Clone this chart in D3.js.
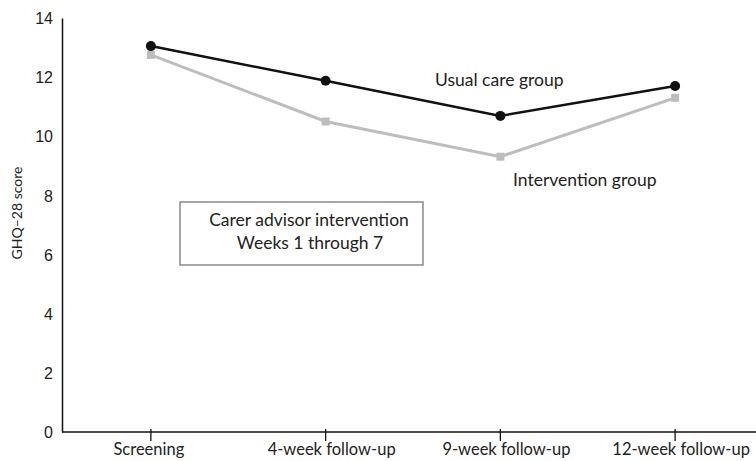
<!DOCTYPE html>
<html>
<head>
<meta charset="utf-8">
<script src="https://cdn.jsdelivr.net/npm/d3@7"></script>
<style>
  body { margin: 0; background: #fff; }
  svg { display: block; font-family: Lato, "Open Sans", sans-serif; }
  .axis text { fill: #222; }
</style>
</head>
<body>
<div id="chart"></div>
<script>
var timepoints = ["Screening", "4-week follow-up", "9-week follow-up", "12-week follow-up"]
var usualCare = [13.05, 11.88, 10.69, 11.7]
var intervention = [12.75, 10.5, 9.31, 11.3]
var yTicks = [0, 2, 4, 6, 8, 10, 12, 14]

function drawChart() {
  var width = 756
  var height = 461
  var margin = { top: 18, right: 0, bottom: 29, left: 62 }

  var svg = d3.select("#chart")
    .append("svg")
    .attr("width", width)
    .attr("height", height)

  var xScale = d3.scalePoint()
    .domain(timepoints)
    .range([margin.left + 1.5, margin.left + 700.5])
    .padding(0.5)

  var yScale = d3.scaleLinear()
    .domain([0, 14])
    .range([height - margin.bottom, margin.top])

  // y axis
  var yAxis = svg.append("g")
    .attr("class", "axis")
    .attr("transform", `translate(${margin.left},0)`)
    .call(d3.axisLeft(yScale).tickValues(yTicks).tickSize(0).tickPadding(9))
  yAxis.select(".domain").attr("stroke", "#111").attr("stroke-width", 1.5)
  yAxis.selectAll("text").style("font-size", "16px").attr("dy", "0.35em")

  // x axis
  var xAxis = svg.append("g")
    .attr("class", "axis")
    .attr("transform", `translate(0,${yScale(0)})`)
  xAxis.append("line")
    .attr("x1", margin.left)
    .attr("x2", width)
    .attr("stroke", "#111")
    .attr("stroke-width", 1.5)
  xAxis.selectAll(".tick")
    .data(timepoints).enter()
    .append("line")
    .attr("class", "tick")
    .attr("x1", d => xScale(d))
    .attr("x2", d => xScale(d))
    .attr("y1", -3)
    .attr("y2", 9)
    .attr("stroke", "#111")
    .attr("stroke-width", 1.3)
  xAxis.selectAll(".label")
    .data(timepoints).enter()
    .append("text")
    .attr("class", "label")
    .attr("x", d => xScale(d) + (d == "Screening" ? -2 : 6))
    .attr("y", 23)
    .attr("text-anchor", "middle")
    .style("font-size", "16.5px")
    .text(d => d)

  svg.append("text")
    .attr("transform", "translate(22,213) rotate(-90)")
    .attr("text-anchor", "middle")
    .style("font-size", "14px")
    .style("fill", "#222")
    .text("GHQ\u201328 score")

  var line = d3.line()
    .x((d, i) => xScale(timepoints[i]))
    .y(d => yScale(d))

  // intervention series (grey, squares)
  svg.append("path")
    .datum(intervention)
    .attr("fill", "none")
    .attr("stroke", "#bdbdbd")
    .attr("stroke-width", 3)
    .attr("d", line)
  svg.selectAll(".sq")
    .data(intervention).enter()
    .append("rect")
    .attr("class", "sq")
    .attr("x", (d, i) => xScale(timepoints[i]) - 4)
    .attr("y", d => yScale(d) - 4)
    .attr("width", 8)
    .attr("height", 8)
    .attr("fill", "#bdbdbd")

  // usual care series (black, circles)
  svg.append("path")
    .datum(usualCare)
    .attr("fill", "none")
    .attr("stroke", "#111")
    .attr("stroke-width", 2.5)
    .attr("d", line)
  svg.selectAll(".dot")
    .data(usualCare).enter()
    .append("circle")
    .attr("class", "dot")
    .attr("cx", (d, i) => xScale(timepoints[i]))
    .attr("cy", d => yScale(d))
    .attr("r", 5)
    .attr("fill", "#111")

  // series labels
  svg.append("text")
    .attr("x", 435)
    .attr("y", 86)
    .style("font-size", "17.5px")
    .style("fill", "#222")
    .text("Usual care group")

  svg.append("text")
    .attr("x", 513)
    .attr("y", 186)
    .style("font-size", "17.5px")
    .style("fill", "#222")
    .text("Intervention group")

  // annotation box
  svg.append("rect")
    .attr("x", 180)
    .attr("y", 202)
    .attr("width", 243)
    .attr("height", 63)
    .attr("fill", "none")
    .attr("stroke", "#8a8a8a")
    .attr("stroke-width", 1.5)
  svg.append("text")
    .attr("x", 309)
    .attr("y", 226)
    .attr("text-anchor", "middle")
    .style("font-size", "17.5px")
    .style("fill", "#222")
    .text("Carer advisor intervention")
  svg.append("text")
    .attr("x", 310)
    .attr("y", 249)
    .attr("text-anchor", "middle")
    .style("font-size", "17.5px")
    .style("fill", "#222")
    .text("Weeks 1 through 7")
}

drawChart()
</script>
</body>
</html>
